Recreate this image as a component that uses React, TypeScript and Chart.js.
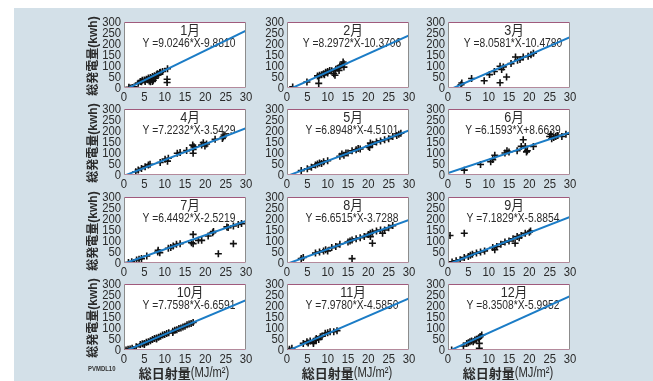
import React, { useEffect, useRef } from "react";
import { Chart, registerables } from "chart.js";
Chart.register(...registerables);

// ---- data ----
const monthNames = ["1月", "2月", "3月", "4月", "5月", "6月", "7月", "8月", "9月", "10月", "11月", "12月"];
const slopes = [9.0246, 8.2972, 8.0581, 7.2232, 6.8948, 6.1593, 6.4492, 6.6515, 7.1829, 7.7598, 7.978, 8.3508];
const intercepts = [-9.881, -10.3706, -10.478, -3.5429, -4.5101, 8.6639, -2.5219, -3.7288, -5.8854, -6.6591, -4.585, -5.9952];
const xTicks = [0, 5, 10, 15, 20, 25, 30];
const yTicks = [0, 50, 100, 150, 200, 250, 300];

const ptsJan: [number, number][] = [[1.2, 3], [1.5, 0], [2, 2], [2.5, 5], [3.5, 22], [4, 30], [4.3, 28], [4.5, 35], [5, 36], [5.2, 30], [5.5, 40], [5.8, 38], [6, 45], [6.2, 32], [6.5, 48], [6.7, 40], [7, 52], [7.2, 35], [7.5, 56], [7.7, 45], [8, 60], [8.2, 65], [8.5, 62], [8.8, 70], [9, 72], [9.5, 75], [7, 30], [6.5, 28], [10.7, 88], [10.6, 40], [10.6, 25]];
const ptsFeb: [number, number][] = [[1.4, 5], [4.9, 27], [7.8, 21], [7.5, 55], [7.8, 50], [8, 58], [8.5, 60], [9, 65], [9.2, 60], [9.5, 72], [10, 75], [10, 68], [10.5, 80], [11, 78], [11.5, 65], [11.8, 58], [12, 85], [12.5, 90], [12.8, 80], [13, 100], [13.5, 105], [13.8, 118], [14, 110], [14, 95]];
const ptsMar: [number, number][] = [[3.4, 23], [3.2, 15], [5.8, 43], [8.9, 33], [10.2, 61], [11.4, 75], [12.8, 24], [12.8, 99], [13.6, 96], [13.2, 84], [14.4, 50], [15.5, 111], [16.6, 141], [17.1, 126], [17.7, 129], [18.5, 141], [19.7, 144], [20.4, 151], [21, 158]];
const ptsApr: [number, number][] = [[2.9, 15], [3.5, 23], [4.3, 30], [5.2, 38], [6, 46], [6.4, 49], [8.9, 57], [10.1, 72], [10.7, 63], [10.9, 76], [13.1, 99], [13.8, 102], [15.4, 111], [16.9, 136], [17, 116], [17, 99], [17.2, 128], [19.1, 136], [19.5, 147], [19.9, 132], [20.3, 141], [22.4, 162], [24.4, 173], [24.6, 182], [24.2, 166]];
const ptsMay: [number, number][] = [[3.5, 20], [5, 28], [6, 35], [7, 45], [7.5, 50], [8, 55], [8.5, 52], [9, 60], [10, 65], [13, 85], [13.5, 95], [14, 90], [14.5, 100], [15, 100], [16, 110], [17, 115], [17.5, 120], [18, 118], [20, 130], [20.3, 125], [20.5, 145], [21, 140], [22, 150], [23, 155], [24, 160], [25, 165], [26, 175], [27, 180], [27.5, 185], [28, 190]];
const ptsJun: [number, number][] = [[4, 22], [8, 48], [10.5, 60], [11, 70], [11.5, 90], [14, 100], [14.5, 110], [15, 105], [17, 110], [18, 130], [18.5, 160], [19, 130], [19.3, 105], [19.5, 110], [21, 130], [25, 175], [25.3, 185], [25.5, 165], [26, 170], [26.5, 175], [27, 180], [28, 175], [29, 185]];
const ptsJul: [number, number][] = [[1.1, 2], [1.9, 6], [3.1, 14], [3.7, 17], [4.3, 20], [5.6, 32], [8.3, 50], [8.4, 58], [8.8, 47], [10.9, 67], [11.5, 70], [12.1, 77], [12.9, 85], [13.8, 88], [16.6, 92], [17, 130], [17, 88], [18.3, 103], [19.1, 103], [20.7, 123], [21.8, 138], [22, 143], [23.2, 42], [25.3, 164], [25.6, 161], [26.9, 88], [26.9, 168], [28.1, 175], [28.9, 179]];
const ptsAug: [number, number][] = [[3.5, 20], [4, 25], [7, 45], [8, 50], [9, 55], [9.5, 60], [10, 55], [11, 70], [12, 75], [13, 85], [15, 95], [15.5, 100], [16, 105], [16, 20], [17, 110], [18, 115], [19, 120], [20, 130], [20.5, 120], [20.5, 135], [21, 90], [21, 140], [22, 145], [23, 150], [23.5, 135], [24, 150], [25, 160], [26, 170]];
const ptsSep: [number, number][] = [[0.5, 125], [4, 135], [1, 5], [2, 10], [3, 15], [4, 25], [5, 30], [5.5, 35], [6, 40], [7, 45], [8, 50], [9, 55], [11, 70], [11.5, 60], [12, 75], [13, 85], [14, 95], [15, 100], [16, 110], [16.5, 90], [17, 120], [17.5, 115], [18, 125], [19, 135], [20, 140], [20.3, 145]];
const ptsOct: [number, number][] = [[0.5, 0], [1, 3], [1.5, 5], [2, 8], [3, 15], [4, 25], [4.5, 28], [5, 30], [5, 25], [5.5, 35], [6, 38], [6.5, 42], [7, 48], [7.5, 52], [8, 55], [8, 50], [8.5, 58], [9, 62], [9.5, 68], [10, 70], [10.5, 75], [11, 78], [12, 85], [12, 80], [12.5, 90], [13, 92], [13.5, 98], [14, 100], [14.5, 105], [15, 108], [15.5, 115], [16, 118], [16.5, 120], [17, 125]];
const ptsNov: [number, number][] = [[0.6, 3], [1.2, 8], [4, 30], [4.9, 38], [5.2, 32], [5.7, 41], [6.5, 36], [6.5, 30], [7, 45], [7.2, 52], [7.8, 48], [8.2, 60], [8.6, 63], [9.4, 76], [10, 78], [10.6, 83], [11.5, 83], [12.3, 88]];
const ptsDec: [number, number][] = [[0.9, 0], [3.8, 18], [4.6, 30], [5, 33], [5.4, 38], [5.8, 41], [6.2, 38], [6.6, 46], [7, 49], [7.5, 53], [7.9, 61], [8.3, 68], [7.7, 30], [7.7, 8]];
const monthPoints = [ptsJan, ptsFeb, ptsMar, ptsApr, ptsMay, ptsJun, ptsJul, ptsAug, ptsSep, ptsOct, ptsNov, ptsDec];

const yTitle = "総発電量(kwh)";
const xTitleKanji = "総日射量";
const xTitleUnit = "(MJ/m²)";
const footNote = "PVMDL10";

// ---- layout / style ----
const COL_LEFT = [124, 287, 448];
const ROW_TOP = [22, 109, 197, 284];
const PW = 122;
const PH = 66;
const BLUE = "#1b7cc6";
const TEXT = "#2a2a2a";
const LATIN = "'Liberation Sans', 'Noto Sans CJK JP', sans-serif";
const CJK = "'Noto Sans CJK JP', sans-serif";

function fmtEq(a: number, b: number) {
  return "Y =" + a.toFixed(4) + "*X" + (b < 0 ? "-" : "+") + Math.abs(b).toFixed(4);
}

function drawText(ctx: CanvasRenderingContext2D, text: string, x: number, y: number, align: CanvasTextAlign, font: string, sx: number) {
  ctx.save();
  ctx.translate(x, y);
  ctx.scale(sx, 1);
  ctx.font = font;
  ctx.textAlign = align;
  ctx.textBaseline = "middle";
  ctx.fillText(text, 0, 0);
  ctx.restore();
}

function Panel({ idx }: { idx: number }) {
  const ref = useRef<HTMLCanvasElement>(null);
  const row = Math.floor(idx / 3);
  const col = idx % 3;
  const isLeft = col === 0;
  const isBottom = row === 3;
  const padL = 46;
  const padT = 9;
  const padR = 12;
  const axisH = 17;
  const extraB = isBottom ? 26 : 0;
  const w = padL + PW + padR;
  const h = padT + PH + axisH + extraB;

  useEffect(() => {
    const a = slopes[idx];
    const b = intercepts[idx];
    const pts = monthPoints[idx];
    const panelPlugin = {
      id: "panel" + idx,
      beforeDraw(chart: any) {
        const { ctx, chartArea } = chart;
        ctx.save();
        ctx.fillStyle = "#ffffff";
        ctx.fillRect(chartArea.left, chartArea.top, chartArea.right - chartArea.left, chartArea.bottom - chartArea.top);
        ctx.restore();
      },
      beforeDatasetsDraw(chart: any) {
        const { ctx, chartArea } = chart;
        const cx = (chartArea.left + chartArea.right) / 2 + 4;
        ctx.save();
        ctx.fillStyle = TEXT;
        drawText(ctx, monthNames[idx], cx + 1, chartArea.top + 9, "center", "14px " + LATIN, 0.9);
        drawText(ctx, fmtEq(a, b), cx, chartArea.top + 21.5, "center", "13px " + LATIN, 0.79);
        ctx.restore();
      },
      afterDraw(chart: any) {
        const { ctx, chartArea, scales } = chart;
        const l = Math.round(chartArea.left) + 0.5;
        const r = Math.round(chartArea.right) - 0.5;
        const t = Math.round(chartArea.top) + 0.5;
        const bt = Math.round(chartArea.bottom) - 0.5;
        ctx.save();
        ctx.lineWidth = 1;
        ctx.strokeStyle = "#8c8c8c";
        ctx.beginPath();
        ctx.moveTo(l, t); ctx.lineTo(l, bt);
        ctx.moveTo(r, t); ctx.lineTo(r, bt);
        ctx.stroke();
        ctx.strokeStyle = "#a05a7c";
        ctx.beginPath();
        ctx.moveTo(l, t); ctx.lineTo(r, t);
        ctx.stroke();
        ctx.strokeStyle = "#b48a9c";
        ctx.beginPath();
        ctx.moveTo(l, bt); ctx.lineTo(r, bt);
        ctx.stroke();
        ctx.fillStyle = TEXT;
        // tick labels from the chart's scales
        for (const v of xTicks) {
          drawText(ctx, String(v), scales.x.getPixelForValue(v), chartArea.bottom + 9, "center", "13px " + LATIN, 0.87);
        }
        for (const v of yTicks) {
          drawText(ctx, String(v), chartArea.left - 3, scales.y.getPixelForValue(v), "right", "13px " + LATIN, 0.87);
        }
        if (isLeft) {
          ctx.save();
          ctx.translate(chartArea.left - 30, (chartArea.top + chartArea.bottom) / 2 + 1);
          ctx.rotate(-Math.PI / 2);
          ctx.textAlign = "center";
          ctx.textBaseline = "middle";
          ctx.font = "bold 12px " + LATIN;
          ctx.fillText(yTitle, 0, 0);
          ctx.restore();
        }
        if (isBottom) {
          const cy = chartArea.bottom + 23;
          ctx.font = "bold 13px " + CJK;
          const kw = ctx.measureText(xTitleKanji).width;
          ctx.font = "14px " + LATIN;
          const uw = ctx.measureText(xTitleUnit).width * 0.8;
          const startX = (chartArea.left + chartArea.right) / 2 - 1 - (kw + uw) / 2;
          drawText(ctx, xTitleKanji, startX, cy, "left", "bold 13px " + CJK, 1);
          drawText(ctx, xTitleUnit, startX + kw, cy, "left", "14px " + LATIN, 0.8);
        }
        ctx.restore();
      },
    };

    const chart = new Chart(ref.current as HTMLCanvasElement, {
      type: "scatter",
      data: {
        datasets: [
          {
            type: "line",
            data: [{ x: 0, y: b }, { x: 30, y: 30 * a + b }],
            borderColor: BLUE,
            borderWidth: 2,
            pointRadius: 0,
            order: 0,
          } as any,
          {
            type: "scatter",
            data: pts.map(([x, y]) => ({ x, y })),
            pointStyle: "cross",
            pointRadius: 3.5,
            borderColor: "#111111",
            backgroundColor: "#111111",
            borderWidth: 1.6,
            order: 1,
          } as any,
        ],
      },
      options: {
        animation: false,
        responsive: false,
        devicePixelRatio: 1,
        layout: { padding: { left: 0, top: padT, right: padR, bottom: extraB } },
        plugins: { legend: { display: false }, tooltip: { enabled: false }, title: { display: false } },
        scales: {
          x: {
            type: "linear",
            min: 0,
            max: 30,
            afterBuildTicks: (s: any) => { s.ticks = xTicks.map((v) => ({ value: v })); },
            afterFit: (s: any) => { s.height = axisH; },
            grid: { display: false, drawTicks: false },
            border: { display: false },
            ticks: { display: false },
          },
          y: {
            type: "linear",
            min: 0,
            max: 300,
            afterBuildTicks: (s: any) => { s.ticks = yTicks.map((v) => ({ value: v })); },
            afterFit: (s: any) => { s.width = padL; },
            grid: { display: false, drawTicks: false },
            border: { display: false },
            ticks: { display: false },
          },
        },
      } as any,
      plugins: [panelPlugin as any],
    });
    return () => chart.destroy();
  }, []);

  return (
    <canvas
      ref={ref}
      width={w}
      height={h}
      style={{ position: "absolute", left: COL_LEFT[col] - padL, top: ROW_TOP[row] - padT, width: w, height: h }}
    />
  );
}

export default function App() {
  return (
    <div style={{ position: "fixed", left: 0, top: 0, width: 653, height: 381, overflow: "hidden", background: "#ffffff" }}>
      <div style={{ position: "absolute", left: 14, top: 8, right: 0, bottom: 0, background: "#d3e0e8" }} />
      {monthNames.map((_, i) => (
        <Panel key={i} idx={i} />
      ))}
      <div
        style={{
          position: "absolute",
          left: 88,
          top: 364,
          fontFamily: LATIN,
          fontWeight: "bold",
          fontSize: 7,
          color: "#333",
          lineHeight: "9px",
          transform: "scaleX(0.85)",
          transformOrigin: "left top",
          whiteSpace: "nowrap",
        }}
      >
        {footNote}
      </div>
    </div>
  );
}
